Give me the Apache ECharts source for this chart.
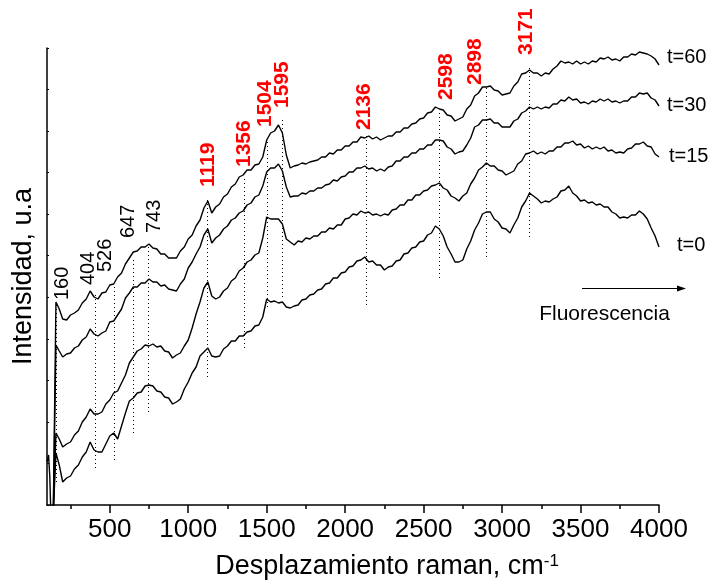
<!DOCTYPE html>
<html>
<head>
<meta charset="utf-8">
<script src="https://cdn.jsdelivr.net/npm/echarts@6/dist/echarts.min.js"></script>
<style>
  html, body { margin: 0; padding: 0; background: #fff; }
  #chart { width: 714px; height: 588px; }
</style>
</head>
<body>
<div id="chart"></div>
<script>
// Raman shift (cm-1) sampled for every spectrum
const ramanShift = [100,110,118,128,140,157,178,
  200,225,250,275,300,325,350,375,400,425,450,475,500,525,550,575,600,625,650,675,700,725,750,775,800,825,850,875,900,925,950,975,
  1000,1025,1050,1075,1100,1125,1150,1175,1200,1225,1250,1275,1300,1325,1350,1375,1400,1425,1450,1475,1500,1525,1550,1575,1600,1625,1650,1675,1700,1725,1750,1775,1800,1825,1850,1875,1900,1925,1950,1975,
  2000,2025,2050,2075,2100,2125,2150,2175,2200,2225,2250,2275,2300,2325,2350,2375,2400,2425,2450,2475,2500,2525,2550,2575,2600,2625,2650,2675,2700,2725,2750,2775,2800,2825,2850,2875,2900,2925,2950,2975,
  3000,3025,3050,3075,3100,3125,3150,3175,3200,3225,3250,3275,3300,3325,3350,3375,3400,3425,3450,3475,3500,3525,3550,3575,3600,3625,3650,3675,3700,3725,3750,3775,3800,3825,3850,3875,3900,3925,3950,3975,
  4000];

// Stacked intensities (arbitrary units) for each exposure time
const intensityT0 = [43,50,28,-30,-8,52,40,
  23,27,29,36,40,48,53,63,55,53,53,61,69,72,66,79,92,104,107,112,113,119,120,119,114,113,108,107,101,103,106,116,
  123,132,138,149,153,157,149,148,149,156,159,164,164,169,169,173,174,179,180,188,206,203,204,202,203,198,197,199,200,205,206,210,211,215,216,221,222,227,227,232,
  233,238,239,244,245,248,243,244,240,240,235,238,239,244,245,251,252,257,258,263,264,270,272,279,276,269,258,251,243,243,245,256,264,275,282,291,293,293,286,283,
  277,276,272,280,287,298,304,312,309,306,302,304,303,306,308,314,315,319,312,309,304,305,302,303,300,301,298,298,293,291,287,288,287,290,290,294,291,286,277,269,
  258];
const intensityT15 = [-30,-30,-30,-30,-8,72,66,
  58,61,63,70,74,83,88,96,91,91,93,101,105,112,114,122,130,142,148,154,156,160,159,161,158,159,154,153,147,150,152,159,
  165,177,191,203,217,223,209,206,208,214,217,224,227,234,237,243,245,250,252,267,288,286,286,286,281,266,263,260,264,263,267,266,269,269,273,273,277,276,280,280,
  286,287,291,290,294,292,293,290,291,289,291,290,295,296,300,300,305,305,310,310,314,315,319,320,322,317,315,309,307,304,309,312,321,327,335,338,342,339,339,335,
  334,330,332,334,341,344,351,352,354,351,353,351,354,354,358,358,362,362,364,360,361,357,359,356,358,356,358,354,355,352,353,352,356,357,361,361,363,359,358,351,
  348];
const intensityT30 = [-30,-30,-30,-30,-8,160,154,
  148,151,152,157,159,165,168,176,171,169,172,174,183,184,190,196,207,212,218,218,222,222,226,223,223,219,220,216,215,214,221,226,
  237,243,251,258,270,276,262,267,270,276,279,285,287,292,294,300,302,308,310,319,333,337,337,341,334,318,308,309,309,312,311,314,314,317,317,320,321,325,324,328,
  329,333,333,337,337,339,336,337,334,336,334,338,339,344,344,348,348,352,352,356,356,360,360,365,365,364,358,356,351,353,354,360,367,378,380,385,385,386,382,382,
  378,378,378,384,386,392,394,398,396,398,396,398,397,401,401,405,404,408,405,406,402,403,401,404,403,406,404,406,403,404,402,404,404,408,408,412,411,412,407,405,
  399];
const intensityT60 = [-30,-30,-30,-30,-8,203,196,
  186,185,190,192,195,202,206,214,208,206,212,213,220,221,228,232,241,247,253,254,258,258,261,257,256,251,251,247,247,247,254,258,
  266,270,279,285,297,304,292,298,301,308,311,318,321,328,330,335,335,340,341,348,365,372,374,380,372,350,337,339,340,342,341,343,344,345,348,348,352,351,355,355,
  359,359,363,363,368,367,369,366,368,365,367,369,369,373,373,377,377,381,382,386,387,392,393,398,396,395,390,389,384,386,388,396,400,409,412,418,418,419,415,414,
  410,411,412,419,423,431,432,435,432,432,429,432,431,436,439,444,442,443,441,444,441,443,441,444,443,447,446,448,445,446,444,448,448,451,450,453,452,451,449,446,
  440];
const seriesNames = ['t=0', 't=15', 't=30', 't=60'];

// x-axis tick values
const xMajorTicks = [500, 1000, 1500, 2000, 2500, 3000, 3500, 4000];
const xMinorTicks = [250, 750, 1250, 1750, 2250, 2750, 3250, 3750];

// Assigned Raman bands: position, guide span (intensity units)
const bandShifts = [160, 404, 526, 647, 743, 1119, 1356, 1504, 1595, 2136, 2598, 2898, 3171];
const bandGuideLow = [23, 37, 45, 72, 93, 128, 157, 198, 208, 200, 227, 248, 268];
const bandGuideHigh = [200, 213, 220, 247, 260, 305, 328, 365, 387, 370, 395, 418, 440];
const highlightedBands = [1119, 1356, 1504, 1595, 2136, 2598, 2898, 3171];

// Label layout for the band annotations (start height, horizontal nudge in px)
const bandLabelBase = [205, 220, 233, 267, 272, 318, 338, 378, 397, 375, 405, 420, 450];
const bandLabelNudge = [6, -6, -8, -4, 7, 1, 0, -2, 1, -2, 7, -11, -3];

const FONT = '"Liberation Sans", Arial, Helvetica, sans-serif';
const yMax = 457;
const yStep = yMax / 11;

const chart = echarts.init(document.getElementById('chart'), null, { renderer: 'canvas' });

const spectra = [intensityT0, intensityT15, intensityT30, intensityT60];
const endLabelOffsets = [[10, -2], [2, -1], [0, -1], [0, -8]];

const spectrumSeries = spectra.map((vals, k) => ({
  type: 'line',
  name: seriesNames[k],
  data: ramanShift.map((x, i) => [x, vals[i]]),
  symbol: 'none',
  showSymbol: false,
  silent: true,
  animation: false,
  clip: true,
  lineStyle: { color: '#000', width: 1.4 },
  endLabel: {
    show: true,
    formatter: seriesNames[k],
    color: '#000',
    fontFamily: FONT,
    fontSize: 20,
    distance: 8,
    offset: endLabelOffsets[k]
  }
}));

const guideSeries = {
  type: 'custom',
  silent: true,
  animation: false,
  clip: false,
  data: bandShifts.map((b, i) => [b, bandGuideLow[i], bandGuideHigh[i]]),
  renderItem(params, api) {
    const a = api.coord([api.value(0), api.value(1)]);
    const b = api.coord([api.value(0), api.value(2)]);
    const x = Math.round(a[0]) + 0.5;
    return {
      type: 'line',
      shape: { x1: x, y1: a[1], x2: x, y2: b[1] },
      style: { stroke: '#000', lineWidth: 1, lineDash: [1, 3] }
    };
  }
};

const bandLabelSeries = {
  type: 'custom',
  silent: true,
  animation: false,
  clip: false,
  data: bandShifts.map((b, i) => [b, bandLabelBase[i]]),
  renderItem(params, api) {
    const i = params.dataIndex;
    const p = api.coord([api.value(0), api.value(1)]);
    const red = highlightedBands.includes(bandShifts[i]);
    return {
      type: 'text',
      x: p[0] + bandLabelNudge[i],
      y: p[1],
      rotation: Math.PI / 2,
      style: {
        text: String(bandShifts[i]),
        fill: red ? '#ff0000' : '#000',
        fontSize: red ? 21 : 20,
        fontWeight: red ? 'bold' : 'normal',
        fontFamily: FONT,
        align: 'left',
        verticalAlign: 'middle'
      }
    };
  }
};

chart.setOption({
  animation: false,
  backgroundColor: '#fff',
  grid: { left: 47, right: 55, top: 48, bottom: 83, containLabel: false, outerBoundsMode: 'none' },
  xAxis: [{
    type: 'value',
    min: 100,
    max: 4000,
    position: 'bottom',
    axisLine: { show: true, onZero: false, lineStyle: { color: '#000', width: 1.5 } },
    axisTick: { show: true, customValues: xMajorTicks, length: 8, lineStyle: { color: '#000', width: 1.5 } },
    axisLabel: {
      show: true, customValues: xMajorTicks, color: '#000', fontSize: 26, fontFamily: FONT, margin: 12,
      formatter: (v) => String(v)
    },
    splitLine: { show: false },
    name: 'Desplazamiento raman, cm{sup|-1}',
    nameLocation: 'middle',
    nameGap: 48,
    nameTextStyle: {
      color: '#000', fontSize: 27, fontFamily: FONT, padding: [0, 0, 0, 68],
      rich: { sup: { color: '#000', fontSize: 17, fontFamily: FONT, verticalAlign: 'top' } }
    }
  }, {
    type: 'value',
    min: 100,
    max: 4000,
    position: 'bottom',
    axisLine: { show: false, onZero: false },
    axisTick: { show: true, customValues: xMinorTicks, length: 4, lineStyle: { color: '#000', width: 1.5 } },
    axisLabel: { show: false },
    splitLine: { show: false }
  }],
  yAxis: {
    type: 'value',
    min: 0,
    max: yMax,
    interval: yStep,
    axisLine: { show: true, onZero: false, lineStyle: { color: '#000', width: 1.5 } },
    axisTick: { show: true, inside: true, length: 2, lineStyle: { color: '#000', width: 1 } },
    axisLabel: { show: false },
    splitLine: { show: false },
    name: 'Intensidad, u.a',
    nameLocation: 'middle',
    nameGap: 10,
    nameTextStyle: { color: '#000', fontSize: 27, fontFamily: FONT }
  },
  graphic: [
    { type: 'line', shape: { x1: 582, y1: 288.5, x2: 679, y2: 288.5 }, style: { stroke: '#000', lineWidth: 1 } },
    { type: 'polygon', shape: { points: [[677, 285.5], [686, 288.5], [677, 291.5]] }, style: { fill: '#000' } },
    { type: 'text', x: 604.5, y: 314, style: { text: 'Fluorescencia', fill: '#000', fontSize: 21, fontFamily: FONT, align: 'center', verticalAlign: 'middle' } }
  ],
  series: [guideSeries, ...spectrumSeries, bandLabelSeries]
});
</script>
</body>
</html>
